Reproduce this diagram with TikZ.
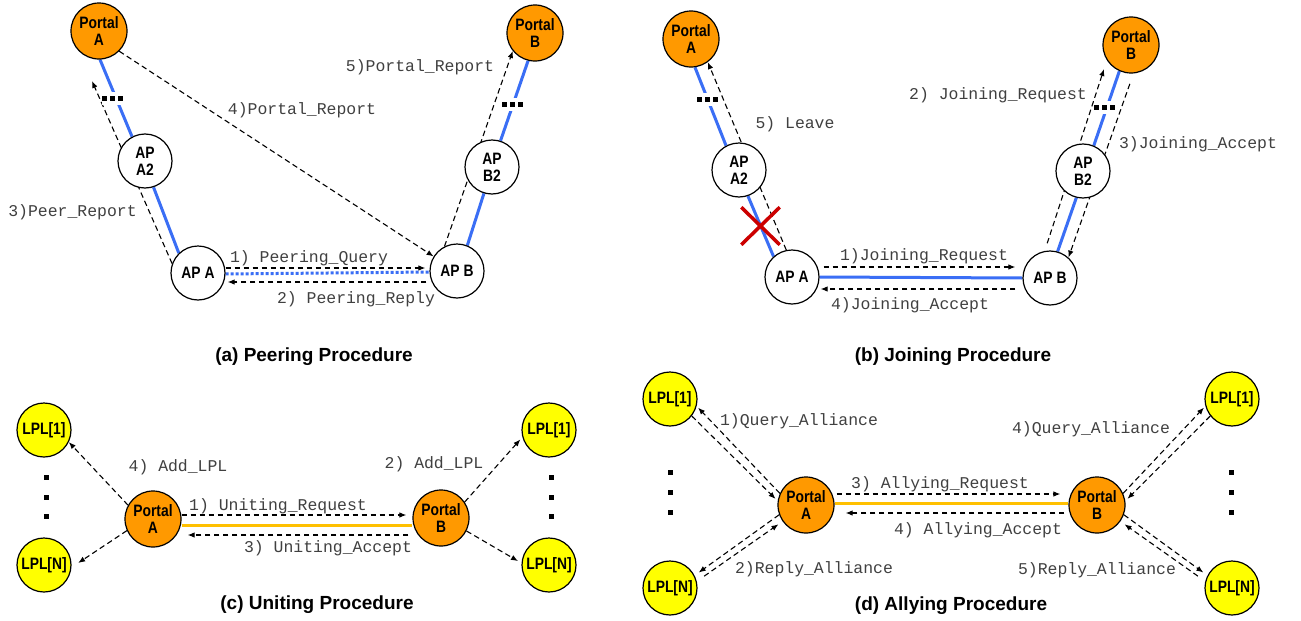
\documentclass[tikz,border=0pt]{standalone}
\usepackage{fontspec}
\usetikzlibrary{arrows.meta,shapes.misc}
\newfontfamily\monof{Liberation Mono}
\newfontfamily\nodef[FakeStretch=0.84]{Liberation Sans Bold}
\newfontfamily\titlef{Liberation Sans Bold}
\definecolor{orgc}{HTML}{FF9900}
\definecolor{ylwc}{HTML}{FFFF00}
\definecolor{bluec}{HTML}{3A6EF5}
\definecolor{goldc}{HTML}{FFC000}
\definecolor{redc}{HTML}{CC0000}
\definecolor{txtc}{HTML}{404040}
\newcommand\tridots{\rule{5pt}{5pt}\hspace{3pt}\rule{5pt}{5pt}\hspace{3pt}\rule{5pt}{5pt}}
\pgfdeclarelayer{bg}
\pgfsetlayers{bg,main}
\tikzset{
  nd/.style={circle, draw=black, line width=1.2pt, minimum size=54pt, inner sep=0pt, align=center, font=\nodef\fontsize{16.5}{17}\selectfont},
  portal/.style={nd, fill=orgc, minimum size=56pt},
  apn/.style={nd, fill=white},
  lpl/.style={nd, fill=ylwc},
  msg/.style={draw=black, line width=1.1pt, dash pattern=on 5.5pt off 3.5pt, -{Latex[length=7pt,width=5.5pt]}},
  bl/.style={draw=bluec, line width=3pt},
  bldot/.style={draw=bluec, line width=3pt, dash pattern=on 3pt off 2pt},
  gl/.style={draw=goldc, line width=3pt},
  lbl/.style={font=\monof\fontsize{16.45}{18}\selectfont, text=txtc, inner sep=0pt, text height=10pt, text depth=0pt},
  ttl/.style={font=\titlef\fontsize{19}{22}\selectfont, inner sep=0pt, text height=13.6pt, text depth=0pt},
  tdots/.style={fill=white, inner xsep=0pt, inner ysep=4pt},
  sq/.style={fill=black, minimum size=5pt, inner sep=0pt},
  redx/.style={cross out, draw=redc, line width=3.5pt, minimum width=35pt, minimum height=34pt, inner sep=0pt}
}
\begin{document}
\begin{tikzpicture}[x=1pt,y=-1pt]
\useasboundingbox (0,0) rectangle (1301,621);
\begin{pgfonlayer}{bg}
\fill[white] (0,0) rectangle (1301,621);
\end{pgfonlayer}
% ---------------- (a) ----------------
\node[portal] (aPA) at (99,31) {Portal\\A};
\node[apn] (aA2) at (145,161) {AP\\A2};
\node[apn] (aAA) at (198,273) {AP A};
\node[apn] (aB) at (457,271) {AP B};
\node[apn] (aB2) at (492,167) {AP\\B2};
\node[portal] (aPB) at (535,33) {Portal\\B};
\coordinate (aT3) at (92,81);
\begin{pgfonlayer}{bg}
\draw[bl] (aPA.-88) -- (aA2.118);
\draw[bl] (aA2.-72) -- (aAA.134);
\draw[bl] (aPB.-104) -- (aB2.72);
\draw[bl] (aB2.-107) -- (aB.68);
\draw[bldot] ([yshift=-1pt]aAA.east) -- ([yshift=-1pt]aB.west);
\draw[msg] (aAA.160) -- (aT3);
\draw[msg] (aPA.-45) -- (aB.148);
\draw[msg] (aB.117) -- (aPB.-141);
\draw[msg] ([yshift=5pt]aAA.east) -- ([yshift=3pt,xshift=-4pt]aB.west);
\draw[msg] ([yshift=-11pt,xshift=-3pt]aB.west) -- ([yshift=-9pt,xshift=2pt]aAA.east);
\end{pgfonlayer}
\node[tdots] (aD1) at (112,98) {\tridots};
\node[tdots] (aD2) at (512.5,104) {\tridots};
\node[lbl] (aL3) at (72.5,211) {3)Peer\_Report};
\node[lbl] (aL4) at (302,109) {4)Portal\_Report};
\node[lbl] (aL5) at (420,66) {5)Portal\_Report};
\node[lbl] (aL1) at (309,257) {1) Peering\_Query};
\node[lbl] (aL2) at (356,298) {2) Peering\_Reply};
\node[ttl] (aT) at (314,355) {(a) Peering Procedure};
% ---------------- (b) ----------------
\node[portal] (bPA) at (691,39) {Portal\\A};
\node[apn] (bA2) at (739,170) {AP\\A2};
\node[apn] (bAA) at (792,277) {AP A};
\node[apn] (bB) at (1050,278) {AP B};
\node[apn] (bB2) at (1083,171) {AP\\B2};
\node[portal] (bPB) at (1131,45) {Portal\\B};
\coordinate (bT2) at (1104,69);
\begin{pgfonlayer}{bg}
\draw[bl] (bPA.-82) -- (bA2.118);
\draw[bl] (bA2.-71) -- (bAA.132);
\draw[bl] (bAA.east) -- (bB.west);
\draw[bl] (bPB.-114) -- (bB2.67);
\draw[bl] (bB2.-104) -- (bB.74);
\draw[msg] (bAA.102) -- (bPA.-54);
\draw[msg, shorten <=8pt] (bB.101) -- (bT2);
\draw[msg, shorten <=11pt] (bPB.-85) -- (bB.48);
\draw[msg] ([yshift=10pt,xshift=4pt]bAA.east) -- ([yshift=11pt,xshift=-7pt]bB.west);
\draw[msg] ([yshift=-11pt,xshift=-7pt]bB.west) -- ([yshift=-12pt,xshift=1pt]bAA.east);
\end{pgfonlayer}
\node[tdots] (bD1) at (707,99) {\tridots};
\node[tdots] (bD2) at (1104.5,107) {\tridots};
\node[redx] (bX) at (760.5,226) {};
\node[lbl] (bL5) at (795,123) {5) Leave};
\node[lbl] (bL2) at (998,94) {2) Joining\_Request};
\node[lbl] (bL3) at (1198,143) {3)Joining\_Accept};
\node[lbl] (bL1) at (924,255) {1)Joining\_Request};
\node[lbl] (bL4) at (910,304) {4)Joining\_Accept};
\node[ttl] (bT) at (953,355) {(b) Joining Procedure};
% ---------------- (c) ----------------
\node[lpl] (cL1) at (44,430) {LPL[1]};
\node[lpl] (cLN) at (44,565) {LPL[N]};
\node[portal] (cPA) at (153,519) {Portal\\A};
\node[portal] (cPB) at (441,518) {Portal\\B};
\node[lpl] (cR1) at (549,430) {LPL[1]};
\node[lpl] (cRN) at (549,565) {LPL[N]};
\node[sq] (cd1) at (46,477) {};
\node[sq] (cd2) at (46,497) {};
\node[sq] (cd3) at (46,516) {};
\node[sq] (cd4) at (551,477) {};
\node[sq] (cd5) at (551,497) {};
\node[sq] (cd6) at (551,516) {};
\begin{pgfonlayer}{bg}
\draw[gl] ([yshift=-6pt]cPA.east) -- ([yshift=-7pt]cPB.west);
\draw[msg] ([yshift=4pt]cPA.east) -- ([yshift=3pt,xshift=-6pt]cPB.west);
\draw[msg] ([yshift=-17pt,xshift=-4pt]cPB.west) -- ([yshift=-16pt,xshift=6pt]cPA.east);
\draw[msg] (cPA.151) -- (cL1.-26);
\draw[msg, shorten >=8pt] (cPA.-156) -- (cLN.-5);
\draw[msg, shorten >=3pt] (cPB.34) -- (cR1.-165);
\draw[msg, shorten >=4pt] (cPB.-27) -- (cRN.176);
\end{pgfonlayer}
\node[lbl] (cL4) at (178,466) {4) Add\_LPL};
\node[lbl] (cL2) at (434,463) {2) Add\_LPL};
\node[lbl] (cM1) at (278,505) {1) Uniting\_Request};
\node[lbl] (cM3) at (328,547) {3) Uniting\_Accept};
\node[ttl] (cT) at (317,603) {(c) Uniting Procedure};
% ---------------- (d) ----------------
\node[lpl] (dL1) at (670,399) {LPL[1]};
\node[lpl] (dLN) at (670,588) {LPL[N]};
\node[portal] (dPA) at (806,505) {Portal\\A};
\node[portal] (dPB) at (1097,505) {Portal\\B};
\node[lpl] (dR1) at (1232,399) {LPL[1]};
\node[lpl] (dRN) at (1232,588) {LPL[N]};
\node[sq] (dd1) at (670,472) {};
\node[sq] (dd2) at (670,492) {};
\node[sq] (dd3) at (670,512) {};
\node[sq] (dd4) at (1231,472) {};
\node[sq] (dd5) at (1231,492) {};
\node[sq] (dd6) at (1231,512) {};
\begin{pgfonlayer}{bg}
\draw[gl] ([yshift=2pt]dPA.east) -- ([yshift=2pt]dPB.west);
\draw[msg] ([yshift=11pt,xshift=2pt]dPA.east) -- ([yshift=11pt,xshift=-8pt]dPB.west);
\draw[msg] ([yshift=-8pt,xshift=-4pt]dPB.west) -- ([yshift=-8pt,xshift=11pt]dPA.east);
\draw[msg, shorten >=3pt] (dL1.-38) -- (dPA.172);
\draw[msg, shorten >=2pt] (dPA.156) -- (dL1.-15);
\draw[msg, shorten >=5pt] (dPA.200) -- (dLN.27);
\draw[msg, shorten <=9pt, shorten >=5pt] (dLN.14) -- (dPA.-145);
\draw[msg, shorten >=3pt] (dR1.-142) -- (dPB.8);
\draw[msg, shorten >=2pt] (dPB.24) -- (dR1.-165);
\draw[msg, shorten >=5pt] (dPB.-20) -- (dRN.153);
\draw[msg, shorten <=9pt, shorten >=5pt] (dRN.166) -- (dPB.-35);
\end{pgfonlayer}
\node[lbl] (dM1) at (799,420) {1)Query\_Alliance};
\node[lbl] (dM2) at (814,568) {2)Reply\_Alliance};
\node[lbl] (dM4) at (1091,428) {4)Query\_Alliance};
\node[lbl] (dM5) at (1097,569) {5)Reply\_Alliance};
\node[lbl] (dM3) at (940,483) {3) Allying\_Request};
\node[lbl] (dM6) at (978,529) {4) Allying\_Accept};
\node[ttl] (dT) at (951,604) {(d) Allying Procedure};
\end{tikzpicture}
\end{document}
